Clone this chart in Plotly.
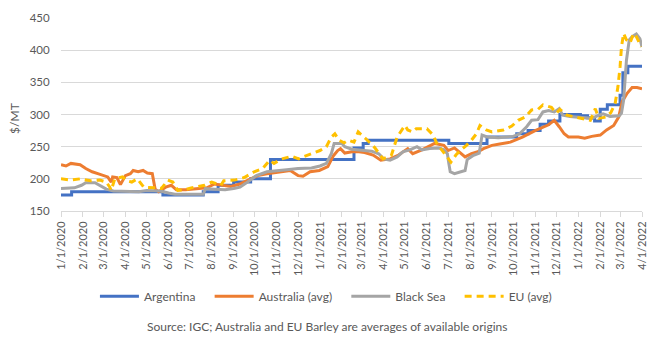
import plotly.graph_objects as go
import pandas as pd

# ---------------- data ----------------
arg_dates = ["2020-01-01","2020-01-16","2020-05-24","2020-07-20","2020-08-10","2020-09-01","2020-09-25",
             "2020-10-23","2021-02-18","2021-03-03","2021-03-10","2021-07-02","2021-08-25","2021-10-06",
             "2021-10-22","2021-11-08","2021-11-20","2021-12-06","2022-01-04","2022-01-14","2022-01-24",
             "2022-02-01","2022-02-11","2022-03-01","2022-03-05","2022-03-12","2022-04-01"]
arg_vals = [175,180,175,180,190,195,200,
            230,248,255,260,255,265,270,
            275,285,290,300,298,295,290,
            308,315,330,365,375,375]

aus_dates = ["2020-01-01","2020-01-08","2020-01-15","2020-01-28","2020-02-05","2020-02-14","2020-02-22",
             "2020-03-01","2020-03-07","2020-03-12","2020-03-14","2020-03-20","2020-03-25","2020-04-01",
             "2020-04-08","2020-04-12","2020-04-19","2020-04-26","2020-05-02","2020-05-09","2020-05-13",
             "2020-05-18","2020-05-28","2020-06-05","2020-06-12","2020-06-25","2020-07-10","2020-07-25",
             "2020-08-05","2020-08-15","2020-08-28","2020-09-10","2020-09-22","2020-10-05","2020-10-18",
             "2020-11-03","2020-11-20","2020-12-01","2020-12-08","2020-12-18","2020-12-31","2021-01-12",
             "2021-01-20","2021-01-26","2021-01-30","2021-02-05","2021-02-15","2021-02-25","2021-03-05",
             "2021-03-17","2021-03-28","2021-04-10","2021-04-22","2021-05-05","2021-05-12","2021-05-25",
             "2021-06-02","2021-06-12","2021-06-25","2021-07-01","2021-07-10","2021-07-20","2021-07-25",
             "2021-08-03","2021-08-12","2021-08-20","2021-09-01","2021-09-12","2021-09-27","2021-10-14",
             "2021-11-01","2021-11-20","2021-11-28","2021-12-05","2021-12-12","2021-12-18","2022-01-01",
             "2022-01-10","2022-01-20","2022-02-01","2022-02-10","2022-02-20","2022-02-27","2022-03-04",
             "2022-03-11","2022-03-18","2022-03-25","2022-04-01"]
aus_vals = [222,220,224,222,216,211,208,
            205,203,195,203,202,191,205,
            208,213,211,213,209,208,184,
            180,187,190,183,183,185,186,
            192,190,188,192,198,205,208,
            211,213,205,204,211,213,219,
            236,244,247,240,242,242,241,
            237,229,231,237,247,239,245,
            250,255,252,244,248,239,234,
            239,242,247,252,254,257,265,
            275,284,291,281,270,265,265,
            263,266,268,276,283,296,320,
            333,342,342,340]

bs_dates = ["2020-01-01","2020-01-20","2020-01-30","2020-02-05","2020-02-18","2020-02-25","2020-03-05",
            "2020-03-15","2020-04-01","2020-04-20","2020-05-01","2020-05-20","2020-06-01","2020-06-10",
            "2020-07-20","2020-07-23","2020-08-05","2020-08-20","2020-09-01","2020-09-10","2020-09-18",
            "2020-09-26","2020-10-03","2020-10-18","2020-11-01","2020-11-15","2020-12-01","2020-12-20",
            "2021-01-01","2021-01-10","2021-01-17","2021-01-21","2021-02-01","2021-02-05","2021-02-15",
            "2021-03-01","2021-03-15","2021-03-25","2021-04-01","2021-04-10","2021-04-20","2021-04-28",
            "2021-05-08","2021-05-18","2021-05-25","2021-06-05","2021-06-18","2021-06-25","2021-06-30",
            "2021-07-02","2021-07-04","2021-07-10","2021-07-25","2021-07-28","2021-08-05","2021-08-14",
            "2021-08-18","2021-08-25","2021-09-10","2021-10-01","2021-10-10","2021-10-20","2021-10-27",
            "2021-11-05","2021-11-12","2021-11-20","2021-11-28","2021-12-05","2021-12-10","2021-12-20",
            "2022-01-05","2022-01-20","2022-01-30","2022-02-05","2022-02-15","2022-02-28","2022-03-03",
            "2022-03-06","2022-03-10","2022-03-14","2022-03-18","2022-03-24","2022-03-29","2022-04-01"]
bs_vals = [185,186,190,194,194,190,184,
           181,180,180,182,181,178,176,
           176,185,184,183,185,187,193,
           199,205,211,213,214,216,217,
           220,224,239,255,255,250,246,
           244,243,239,231,229,234,242,
           245,250,245,247,248,245,239,
           224,211,208,213,230,236,240,
           268,265,264,266,270,281,291,
           292,304,306,304,309,299,297,
           296,294,299,301,297,298,302,
           322,384,416,421,425,418,405]

eu_dates = ["2020-01-01","2020-01-15","2020-01-28","2020-02-12","2020-02-25","2020-03-05","2020-03-10",
            "2020-03-12","2020-03-17","2020-03-28","2020-04-03","2020-04-10","2020-04-18","2020-04-27",
            "2020-05-12","2020-05-22","2020-05-31","2020-06-07","2020-06-14","2020-06-24","2020-07-03",
            "2020-07-12","2020-07-22","2020-08-01","2020-08-14","2020-08-18","2020-09-02","2020-09-16",
            "2020-09-30","2020-10-12","2020-10-22","2020-10-28","2020-11-08","2020-11-22","2020-12-02",
            "2020-12-10","2020-12-20","2021-01-01","2021-01-10","2021-01-17","2021-01-22","2021-01-28",
            "2021-02-04","2021-02-10","2021-02-18","2021-02-24","2021-03-06","2021-03-19","2021-03-31",
            "2021-04-12","2021-04-20","2021-05-01","2021-05-05","2021-05-12","2021-05-17","2021-06-01",
            "2021-06-10","2021-06-15","2021-06-22","2021-07-05","2021-07-12","2021-07-19","2021-07-27",
            "2021-08-03","2021-08-10","2021-08-15","2021-08-24","2021-09-01","2021-09-17","2021-09-29",
            "2021-10-08","2021-10-18","2021-10-27","2021-11-05","2021-11-12","2021-11-24","2021-12-01",
            "2021-12-06","2021-12-16","2021-12-28","2022-01-08","2022-01-18","2022-01-25","2022-01-30",
            "2022-02-09","2022-02-16","2022-02-22","2022-02-26","2022-03-01","2022-03-03","2022-03-06",
            "2022-03-10","2022-03-15","2022-03-20","2022-03-24","2022-03-31"]
eu_vals = [200,198,200,197,198,195,187,
           182,200,203,197,195,200,187,
           186,185,198,195,182,183,186,
           188,190,195,190,197,198,202,
           211,216,229,224,231,235,231,
           235,239,244,250,265,270,260,
           256,260,257,273,263,249,231,
           237,265,283,276,273,278,278,
           268,255,245,226,237,245,252,
           260,270,283,276,273,276,282,
           291,296,307,308,315,311,302,
           308,299,296,294,291,309,294,
           296,303,317,343,374,405,426,
           416,411,426,421,405]

series_names = ["Argentina", "Australia (avg)", "Black Sea", "EU (avg)"]
series_colors = ["#4472C4", "#ED7D31", "#A5A5A5", "#FFC000"]

y_ticks = [150, 200, 250, 300, 350, 400, 450]
tick_dates = pd.date_range("2020-01-01", "2022-04-01", freq="MS")
tick_labels = [f"{d.month}/1/{d.year}" for d in tick_dates]

source_text = "Source: IGC; Australia and EU Barley are averages of available origins"
y_title = "$/MT"

FONT = "Lato, 'Open Sans', sans-serif"
TXT = "#595959"
PAD = "\u00a0" * 3  # spacing after each legend entry

# ---------------- figure ----------------
fig = go.Figure()
fig.add_trace(go.Scatter(x=pd.to_datetime(arg_dates), y=arg_vals, mode="lines", name=series_names[0] + PAD,
                         line=dict(color=series_colors[0], width=3, shape="hv")))
fig.add_trace(go.Scatter(x=pd.to_datetime(aus_dates), y=aus_vals, mode="lines", name=series_names[1] + PAD,
                         line=dict(color=series_colors[1], width=3)))
fig.add_trace(go.Scatter(x=pd.to_datetime(bs_dates), y=bs_vals, mode="lines", name=series_names[2] + PAD,
                         line=dict(color=series_colors[2], width=3)))
fig.add_trace(go.Scatter(x=pd.to_datetime(eu_dates), y=eu_vals, mode="lines", name=series_names[3],
                         line=dict(color=series_colors[3], width=3, dash="7px,5px")))

fig.update_layout(
    width=663, height=338,
    margin=dict(l=61, r=21, t=18, b=127),
    paper_bgcolor="white", plot_bgcolor="white",
    font=dict(family=FONT, color=TXT, size=11),
    showlegend=True,
    legend=dict(orientation="h", x=0.456, xanchor="center", y=-0.442, yanchor="middle",
                font=dict(size=12, color=TXT, family=FONT), traceorder="normal",
                itemwidth=39, bgcolor="rgba(0,0,0,0)"),
    xaxis=dict(type="date", range=[tick_dates[0], tick_dates[-1]],
               tickmode="array", tickvals=tick_dates, ticktext=tick_labels,
               tickangle=-90, tickfont=dict(size=11, color=TXT, family=FONT),
               showgrid=False, zeroline=False,
               showline=True, linecolor="#D9D9D9", linewidth=1,
               ticks="outside", ticklen=5, tickcolor="#D9D9D9", tickwidth=1),
    yaxis=dict(range=[150, 450], tickmode="array", tickvals=y_ticks,
               showgrid=True, gridcolor="#D9D9D9", gridwidth=1, zeroline=False,
               showline=False, ticks="outside", ticklen=8, tickcolor="rgba(0,0,0,0)",
               tickfont=dict(size=11.5, color=TXT, family=FONT)),
    annotations=[
        dict(text=y_title, xref="paper", yref="paper", x=-0.08, y=0.48, showarrow=False,
             textangle=-90, xanchor="center", yanchor="middle",
             font=dict(size=12, color=TXT, family=FONT)),
        dict(text=source_text, xref="paper", yref="paper", x=0.458, y=-0.597, showarrow=False,
             xanchor="center", yanchor="middle",
             font=dict(size=12, color=TXT, family=FONT)),
    ],
)

fig.write_html("out.html")
